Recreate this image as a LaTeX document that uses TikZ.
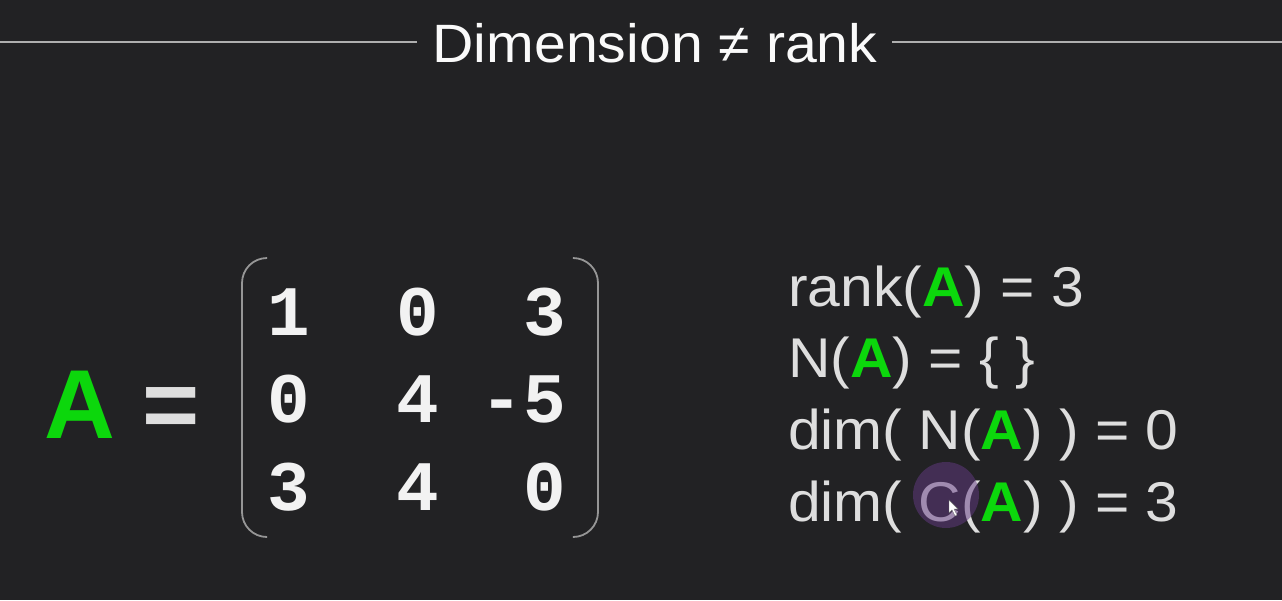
\documentclass[tikz,border=0pt]{standalone}
\usepackage{fontspec}
\setmainfont{Liberation Sans}
\setmonofont{Liberation Mono}
\usepackage{graphicx}
\definecolor{bg}{RGB}{34,34,36}
\definecolor{agreen}{RGB}{12,215,12}
\definecolor{txt}{RGB}{222,222,222}
\definecolor{digit}{RGB}{242,242,242}
\definecolor{brk}{RGB}{150,150,150}
\definecolor{ttl}{RGB}{250,250,250}
\definecolor{ruleg}{RGB}{175,175,175}
\definecolor{halo}{RGB}{100,58,132}
\newcommand{\gA}{{\bfseries\color{agreen}A}}
\begin{document}
\begin{tikzpicture}[x=1pt,y=-1pt,
  titlestyle/.style={inner sep=0pt, anchor=base, text=ttl, font=\fontsize{54}{54}\selectfont},
  ruleline/.style={draw=ruleg, line width=2pt},
  bigstyle/.style={inner sep=0pt, anchor=base west, font=\bfseries\fontsize{98}{98}\selectfont},
  entry/.style={inner sep=0pt, text=digit, font=\ttfamily\bfseries\fontsize{71}{71}\selectfont},
  entryl/.style={entry, anchor=base west},
  entryr/.style={entry, anchor=base east},
  bracket/.style={draw=brk, line width=1.8pt, rounded corners=25pt},
  eqline/.style={inner sep=0pt, anchor=base west, text=txt, font=\fontsize{56}{56}\selectfont}
]
\fill[bg] (0,0) rectangle (1282,600);
\useasboundingbox (0,0) rectangle (1282,600);

% title
\node[titlestyle] (title) at (655,62) {\scalebox{1.06}[1]{Dimension ≠ rank}};
\coordinate (la) at (0,42);
\coordinate (lb) at (417,42);
\coordinate (ra) at (892,42);
\coordinate (rb) at (1282,42);
\draw[ruleline] (la) -- (lb);
\draw[ruleline] (ra) -- (rb);

% A =
\node[bigstyle] (lhs) at (44,438) {{\color{agreen}A} {\color{txt}=}};

% matrix brackets
\coordinate (b1) at (266,258);
\coordinate (b2) at (242,258);
\coordinate (b3) at (242,537);
\coordinate (b4) at (266,537);
\draw[bracket] (b1) -- (b2) -- (b3) -- (b4);
\coordinate (c1) at (574,258);
\coordinate (c2) at (598,258);
\coordinate (c3) at (598,537);
\coordinate (c4) at (574,537);
\draw[bracket] (c1) -- (c2) -- (c3) -- (c4);

% entries
\node[entryl] (m11) at (267,335) {1};
\node[entryl] (m12) at (396,335) {0};
\node[entryr] (m13) at (566,335) {3};
\node[entryl] (m21) at (267,422) {0};
\node[entryl] (m22) at (396,422) {4};
\node[entryr] (m23) at (566,422) {-5};
\node[entryl] (m31) at (267,510) {3};
\node[entryl] (m32) at (396,510) {4};
\node[entryr] (m33) at (566,510) {0};

% right-hand statements
\node[eqline] (s1) at (788,306) {\scalebox{1.05}[1]{rank(\gA) = 3}};
\node[eqline] (s2) at (788,377) {\scalebox{1.05}[1]{N(\gA) = \{ \}}};
\node[eqline] (s3) at (788,449) {\scalebox{1.05}[1]{dim( N(\gA) ) = 0}};
\node[eqline] (s4) at (788,521) {\scalebox{1.05}[1]{dim( C(\gA) ) = 3}};

% cursor highlight
\fill[halo, opacity=0.5] (946,495) circle (33);
\fill[white, draw=black!60, line width=0.4pt]
  (949,500) -- (949,513) -- (952,510) -- (955,516) -- (957,515) -- (954,509) -- (958,509) -- cycle;
\end{tikzpicture}
\end{document}
